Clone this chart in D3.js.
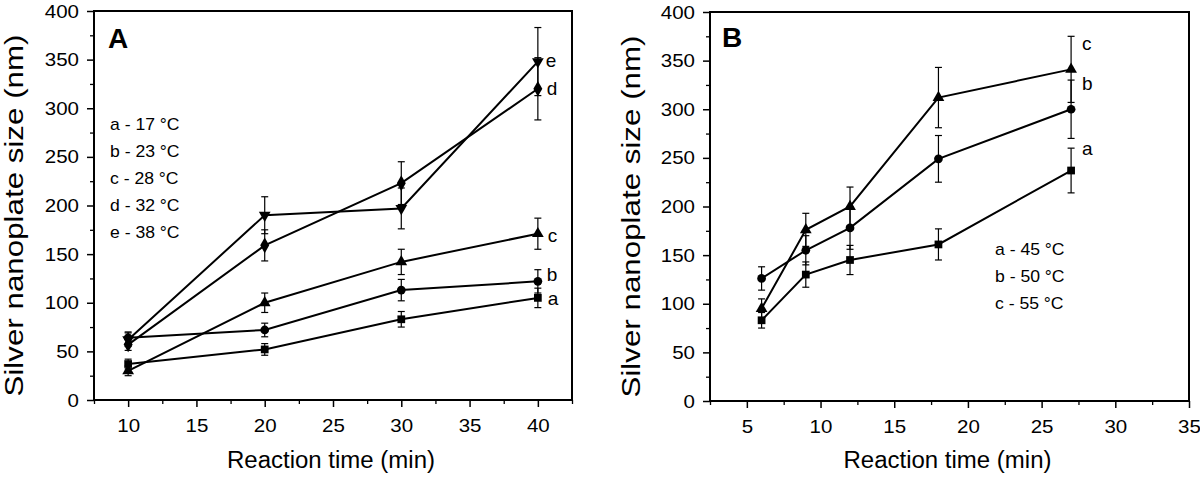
<!DOCTYPE html>
<html><head><meta charset="utf-8">
<script src="https://cdn.jsdelivr.net/npm/d3@7"></script>
<style>body{margin:0;background:#fff}svg{display:block}text{font-family:"Liberation Sans",Arial,sans-serif;fill:#000}</style>
</head><body><svg id="c" width="1200" height="480"></svg>
<script>
// Panel A data
const timesA = [10, 20, 30, 40];
const seriesA_names = ["a", "b", "c", "d", "e"];
const seriesA_legend = ["a - 17 °C", "b - 23 °C", "c - 28 °C", "d - 32 °C", "e - 38 °C"];
const A_a = [37, 52, 83, 105];
const A_b = [64, 72, 113, 122];
const A_c = [30, 100, 142, 171];
const A_d = [57, 159, 223, 320];
const A_e = [62, 190, 197, 348];
const A_a_err = [5, 6, 8, 10];
const A_b_err = [6, 7, 11, 12];
const A_c_err = [5, 10, 13, 16];
const A_d_err = [6, 16, 22, 32];
const A_e_err = [7, 19, 21, 35];
const A_symbols = ["square", "circle", "triUp", "diamond", "triDown"];

// Panel B data
const timesB = [6, 9, 12, 18, 27];
const seriesB_names = ["a", "b", "c"];
const seriesB_legend = ["a - 45 °C", "b - 50 °C", "c - 55 °C"];
const B_a = [83, 130, 145, 161, 237];
const B_b = [126, 155, 178, 249, 300];
const B_c = [95, 176, 200, 312, 341];
const B_a_err = [8, 13, 15, 16, 23];
const B_b_err = [12, 15, 22, 24, 30];
const B_c_err = [10, 17, 20, 31, 34];
const B_symbols = ["square", "circle", "triUp"];

const yTicks = [0, 50, 100, 150, 200, 250, 300, 350, 400];
const xTicksA = [10, 15, 20, 25, 30, 35, 40];
const xTicksB = [5, 10, 15, 20, 25, 30, 35];

const svg = d3.select("#c");

function symbolPath(kind, size) {
  const t = {square: d3.symbolSquare, circle: d3.symbolCircle, triUp: d3.symbolTriangle, triDown: d3.symbolTriangle, diamond: d3.symbolDiamond}[kind];
  return d3.symbol().type(t).size(size)();
}

function panel(cfg) {
  const g = svg.append("g");
  const x = d3.scaleLinear().domain(cfg.xDomain).range([cfg.left, cfg.right]);
  const y = d3.scaleLinear().domain([0, 400]).range([cfg.bottom, cfg.top]);

  // minor ticks
  const yMinor = d3.range(25, 400, 50);
  g.append("g").attr("transform", `translate(${cfg.left},0)`)
    .call(d3.axisLeft(y).tickValues(yMinor).tickSize(4).tickFormat(""))
    .call(a => a.select(".domain").remove())
    .selectAll("line").attr("stroke-width", 1.3);
  const xMinor = d3.range(cfg.xDomain[0], cfg.xDomain[1] + 0.01, 5);
  g.append("g").attr("transform", `translate(0,${cfg.bottom})`)
    .call(d3.axisBottom(x).tickValues(xMinor).tickSize(4).tickFormat(""))
    .call(a => a.select(".domain").remove())
    .selectAll("line").attr("stroke-width", 1.3);

  // major axes
  const ya = g.append("g").attr("transform", `translate(${cfg.left},0)`)
    .call(d3.axisLeft(y).tickValues(yTicks).tickSize(7).tickPadding(8).tickFormat(d3.format("d")));
  ya.select(".domain").remove();
  ya.selectAll("line").attr("stroke-width", 1.5);
  ya.selectAll("text").style("font-size", "19px")
    .attr("transform", "translate(-15,0) scale(1.08,1)").attr("x", 0);

  const xa = g.append("g").attr("transform", `translate(0,${cfg.bottom})`)
    .call(d3.axisBottom(x).tickValues(cfg.xTicks).tickSize(7).tickPadding(12).tickFormat(d3.format("d")));
  xa.select(".domain").remove();
  xa.selectAll("line").attr("stroke-width", 1.5);
  xa.selectAll("text").style("font-size", "19px").attr("transform", "scale(1.08,1)");

  // frame
  g.append("rect").attr("x", cfg.left).attr("y", cfg.top)
    .attr("width", cfg.right - cfg.left).attr("height", cfg.bottom - cfg.top)
    .attr("fill", "none").attr("stroke", "#000").attr("stroke-width", 2);

  // axis titles
  g.append("text").attr("transform", `translate(${cfg.yTitleX},${(cfg.top + cfg.bottom) / 2 + 10}) rotate(-90)`)
    .attr("text-anchor", "middle").style("font-size", "26px")
    .attr("textLength", 362).attr("lengthAdjust", "spacingAndGlyphs")
    .text("Silver nanoplate size (nm)");
  g.append("text").attr("x", (cfg.left + cfg.right) / 2 - 2).attr("y", 468)
    .attr("text-anchor", "middle").style("font-size", "23px")
    .attr("textLength", 208).attr("lengthAdjust", "spacingAndGlyphs")
    .text("Reaction time (min)");

  // panel letter
  g.append("text").attr("x", cfg.left + cfg.letterDx).attr("y", cfg.letterY)
    .style("font-size", "28px").style("font-weight", "bold").text(cfg.letter);

  // legend
  cfg.legend.forEach((t, i) => {
    g.append("text").attr("transform", `translate(${cfg.legX},${cfg.legY + i * cfg.legDy}) scale(1.1,1)`)
      .style("font-size", "16px").text(t);
  });

  // series
  cfg.series.forEach((s, si) => {
    const pts = cfg.times.map((t, i) => ({t, v: s.vals[i], e: s.err[i]}));
    // error bars
    pts.forEach(p => {
      g.append("line").attr("x1", x(p.t)).attr("x2", x(p.t))
        .attr("y1", y(p.v - p.e)).attr("y2", y(p.v + p.e)).attr("stroke", "#000").attr("stroke-width", 1.2);
      [p.v - p.e, p.v + p.e].forEach(v => {
        g.append("line").attr("x1", x(p.t) - 3.5).attr("x2", x(p.t) + 3.5)
          .attr("y1", y(v)).attr("y2", y(v)).attr("stroke", "#000").attr("stroke-width", 1.2);
      });
    });
    g.append("path").datum(pts)
      .attr("d", d3.line().x(p => x(p.t)).y(p => y(p.v)))
      .attr("fill", "none").attr("stroke", "#000").attr("stroke-width", 2);
    pts.forEach(p => {
      const rot = s.sym === "triDown" ? " rotate(180)" : "";
      g.append("path").attr("d", symbolPath(s.sym, s.sym === "diamond" ? 70 : 60))
        .attr("transform", `translate(${x(p.t)},${y(p.v)})${rot}`).attr("fill", "#000");
    });
    const last = pts[pts.length - 1];
    g.append("text").attr("x", x(last.t) + s.lx).attr("y", y(last.v) + s.ly)
      .style("font-size", "19px").text(s.name);
  });
}

panel({
  left: 94, right: 572, top: 11, bottom: 400, xDomain: [7.5, 42.5], xTicks: xTicksA,
  yTitleX: 23, letter: "A", letterDx: 14, letterY: 48, legX: 110, legY: 130, legDy: 27, legend: seriesA_legend,
  times: timesA,
  series: [
    {name: "a", vals: A_a, err: A_a_err, sym: A_symbols[0], lx: 10, ly: 7},
    {name: "b", vals: A_b, err: A_b_err, sym: A_symbols[1], lx: 9, ly: 0},
    {name: "c", vals: A_c, err: A_c_err, sym: A_symbols[2], lx: 10, ly: 8},
    {name: "d", vals: A_d, err: A_d_err, sym: A_symbols[3], lx: 9, ly: 6},
    {name: "e", vals: A_e, err: A_e_err, sym: A_symbols[4], lx: 8, ly: 5}
  ]
});

panel({
  left: 710, right: 1189, top: 12, bottom: 401, xDomain: [2.5, 35], xTicks: xTicksB,
  yTitleX: 640, letter: "B", letterDx: 12, letterY: 47, legX: 995, legY: 255, legDy: 27, legend: seriesB_legend,
  times: timesB,
  series: [
    {name: "a", vals: B_a, err: B_a_err, sym: B_symbols[0], lx: 11, ly: -16},
    {name: "b", vals: B_b, err: B_b_err, sym: B_symbols[1], lx: 11, ly: -19},
    {name: "c", vals: B_c, err: B_c_err, sym: B_symbols[2], lx: 11, ly: -19}
  ]
});
</script></body></html>
